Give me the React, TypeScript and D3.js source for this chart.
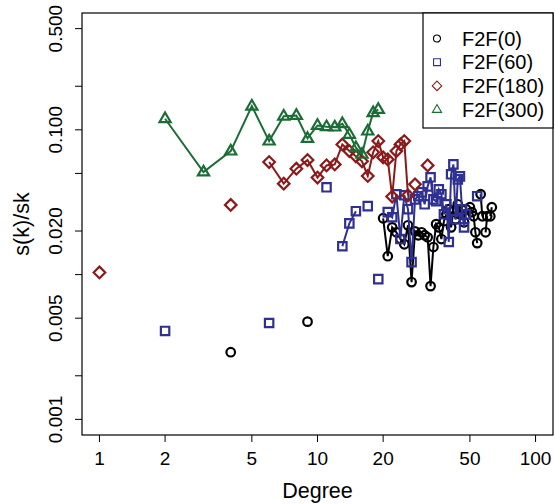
import { useEffect } from 'react'
import * as d3 from 'd3'

// [degree, s(k)/sk]
const f2f0: [number, number][] = [
  [4, 0.00291], [9, 0.00473],
  [20, 0.0245], [21, 0.0134], [22, 0.0212], [23, 0.0196], [24, 0.0176], [25, 0.0162],
  [26, 0.0219], [27, 0.00888], [28, 0.0199], [29, 0.0187], [30, 0.0196], [31, 0.0187],
  [32, 0.0181], [33, 0.00833], [34, 0.0155], [35, 0.0223], [36, 0.0212], [37, 0.0176],
  [38, 0.0234], [39, 0.0261], [40, 0.0283], [41, 0.0212], [42, 0.0274], [43, 0.0241],
  [44, 0.0306], [45, 0.0261], [46, 0.0283], [47, 0.023], [48, 0.0283],
  [50, 0.0292], [51, 0.027], [52, 0.0253], [53, 0.0196], [54, 0.0165],
  [56, 0.0359], [57, 0.0253], [59, 0.0196], [60, 0.0253], [62, 0.0253], [63, 0.0292],
]
const f2f60: [number, number][] = [
  [2, 0.00408], [6, 0.00463], [11, 0.0401],
  [13, 0.0157], [14, 0.0226], [15, 0.0274], [17, 0.0297], [19, 0.00931],
  [21, 0.027], [22, 0.0249], [23, 0.0359], [24, 0.0176], [25, 0.0353], [26, 0.0283],
  [27, 0.0122], [28, 0.0331], [29, 0.0348], [30, 0.037], [31, 0.0306], [32, 0.0407],
  [33, 0.047], [34, 0.0331], [35, 0.0321], [36, 0.0388], [37, 0.0359], [38, 0.0261],
  [39, 0.0306], [40, 0.0168], [41, 0.0493], [42, 0.0577], [43, 0.0241], [44, 0.0455],
  [45, 0.0477], [46, 0.0283], [47, 0.0212], [48, 0.0261], [54, 0.0348],
]
const f2f180: [number, number][] = [
  [1, 0.01035], [4, 0.0303],
  [6, 0.0599], [7, 0.0425], [8, 0.0539], [9, 0.0618], [10, 0.0468], [11, 0.0568],
  [12, 0.0577], [13, 0.0793], [14, 0.0713], [15, 0.0656], [16, 0.0606], [17, 0.048],
  [18, 0.0699], [19, 0.0836], [20, 0.0645], [21, 0.0625], [22, 0.0346], [23, 0.0713],
  [24, 0.0793], [25, 0.0836], [26, 0.0353], [28, 0.042], [32, 0.0568],
]
const f2f300: [number, number][] = [
  [2, 0.1193], [3, 0.0511], [4, 0.0713], [5, 0.1457], [6, 0.0836], [7, 0.1243],
  [8, 0.1257], [9, 0.0872], [10, 0.1072], [11, 0.105], [12, 0.1044], [13, 0.1102],
  [14, 0.093], [15, 0.0753], [16, 0.0677], [17, 0.098], [18, 0.1312], [19, 0.1382],
]

const seriesNames = ['F2F(0)', 'F2F(60)', 'F2F(180)', 'F2F(300)']
const seriesColors = ['#000000', '#2e3191', '#8b1a1a', '#1b6d35']
const seriesShapes = ['circle', 'square', 'diamond', 'triangle']
const seriesData = [f2f0, f2f60, f2f180, f2f300]

const xTicks = [1, 2, 5, 10, 20, 50, 100]
const yTicks = [0.001, 0.002, 0.005, 0.01, 0.02, 0.05, 0.1, 0.2, 0.5]
const yLabelled = [0.001, 0.005, 0.02, 0.1, 0.5]

const W = 555, H = 504
const plot = { l: 82, r: 553, t: 13, b: 435 }

function shapePath(shape: string, cx: number, cy: number, s: number) {
  if (shape === 'circle') {
    const r = 4.3 * s
    return `M${cx - r},${cy}a${r},${r} 0 1,0 ${2 * r},0a${r},${r} 0 1,0 ${-2 * r},0Z`
  }
  if (shape === 'square') {
    const h = 4.2 * s
    return `M${cx - h},${cy - h}H${cx + h}V${cy + h}H${cx - h}Z`
  }
  if (shape === 'diamond') {
    const h = 5.8 * s
    return `M${cx},${cy - h}L${cx + h},${cy}L${cx},${cy + h}L${cx - h},${cy}Z`
  }
  const w = 5.6 * s, up = 6.2 * s, dn = 3.4 * s
  return `M${cx},${cy - up}L${cx + w},${cy + dn}L${cx - w},${cy + dn}Z`
}

// break the line wherever a degree is missing
function segments(pts: [number, number][]) {
  const out: [number, number][][] = []
  let cur: [number, number][] = []
  pts.forEach((p, i) => {
    if (i > 0 && p[0] - pts[i - 1][0] > 1) { out.push(cur); cur = [] }
    cur.push(p)
  })
  out.push(cur)
  return out.filter(s => s.length > 1)
}

export default function App() {
  useEffect(() => { document.body.style.margin = '0' }, [])

  const x = d3.scaleLog().domain([Math.pow(10, -0.08), Math.pow(10, 2.08)]).range([plot.l, plot.r])
  const y = d3.scaleLog().domain([Math.pow(10, -3.108), Math.pow(10, -0.193)]).range([plot.b, plot.t])
  const line = d3.line<[number, number]>().x(d => x(d[0])).y(d => y(d[1]))
  const font = "'Liberation Sans', Arial, sans-serif"

  const leg = { x: 423, y: 13, w: 130, h: 115 }

  return (
    <svg width={W} height={H} style={{ display: 'block', background: '#fff' }} fontFamily={font}>
      {seriesData.map((data, si) => (
        <g key={si} stroke={seriesColors[si]} fill="none" strokeWidth={2}>
          {segments(data).map((seg, k) => <path key={k} d={line(seg) || ''} />)}
          {data.map((d, k) => <path key={'m' + k} d={shapePath(seriesShapes[si], x(d[0]), y(d[1]), 1)} strokeWidth={2.2} />)}
        </g>
      ))}

      <rect x={plot.l} y={plot.t} width={plot.r - plot.l} height={plot.b - plot.t} fill="none" stroke="#000" strokeWidth={1.2} />

      {xTicks.map(t => (
        <g key={t}>
          <line x1={x(t)} x2={x(t)} y1={plot.b} y2={plot.b + 7} stroke="#000" strokeWidth={1} />
          <text x={x(t)} y={465} textAnchor="middle" fontSize={19}>{t}</text>
        </g>
      ))}
      {yTicks.map(t => (
        <g key={t}>
          <line x1={plot.l - 7} x2={plot.l} y1={y(t)} y2={y(t)} stroke="#000" strokeWidth={1} />
          {yLabelled.includes(t) && (
            <text transform={`translate(62,${y(t)}) rotate(-90)`} textAnchor="middle" fontSize={19}>{t.toFixed(3)}</text>
          )}
        </g>
      ))}

      <text x={(plot.l + plot.r) / 2} y={498} textAnchor="middle" fontSize={21.5}>Degree</text>
      <text transform={`translate(29,${(plot.t + plot.b) / 2}) rotate(-90)`} textAnchor="middle" fontSize={21.5}>s(k)/sk</text>

      <rect x={leg.x} y={leg.y} width={leg.w} height={leg.h} fill="#fff" stroke="#000" strokeWidth={1.2} />
      {seriesNames.map((n, i) => {
        const cy = 38.5 + i * 23.7
        return (
          <g key={n}>
            <path d={shapePath(seriesShapes[i], 437, cy, 0.82)} fill="none" stroke={seriesColors[i]} strokeWidth={1.1} />
            <text x={462} y={cy + 7} fontSize={20}>{n}</text>
          </g>
        )
      })}
    </svg>
  )
}
